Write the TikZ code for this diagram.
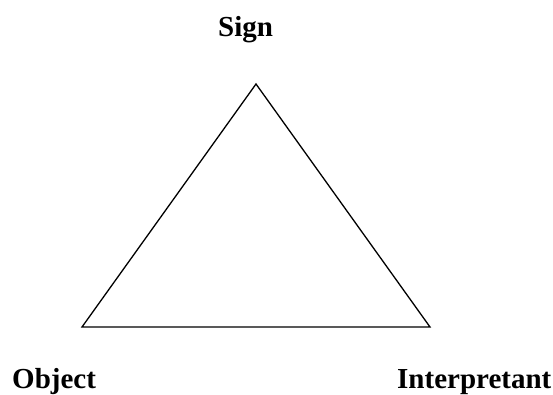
\documentclass[tikz,border=0pt]{standalone}
\usepackage{fontspec}
\setmainfont{Liberation Serif}
\usetikzlibrary{positioning}
\tikzset{
    corner label/.style={font=\fontsize{29}{33}\selectfont\bfseries, inner sep=0pt},
    side line/.style={line width=1.3pt, black, line join=miter},
}

\begin{document}
\begin{tikzpicture}[x=1pt, y=-1pt]
        \useasboundingbox (0,0) rectangle (553,394);

        % Corners
        \coordinate (top) at (256,84);
        \coordinate (left) at (82,327);
        \coordinate (right) at (430,327);

        % Triangle
        \draw[side line] (top) -- (left) -- (right) -- cycle;

        % Labels
        \node[corner label, anchor=base west] (sign) at (218,36) {Sign};
        \node[corner label, anchor=base west] (object) at (12,388) {Object};
        \node[corner label, anchor=base west] (interp) at (397,388) {Interpretant};
    \end{tikzpicture}
\end{document}
